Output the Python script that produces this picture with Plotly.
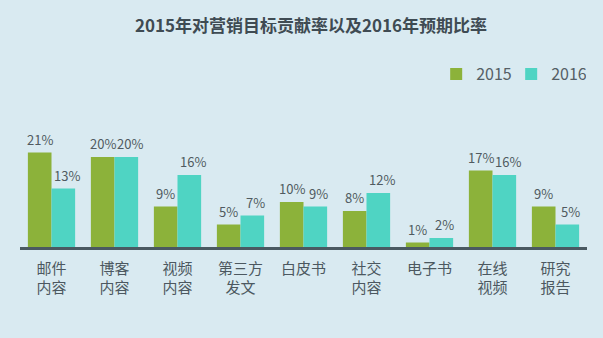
import plotly.graph_objects as go

categories = ["邮件<br>内容", "博客<br>内容", "视频<br>内容", "第三方<br>发文", "白皮书",
              "社交<br>内容", "电子书", "在线<br>视频", "研究<br>报告"]
values_2015 = [21, 20, 9, 5, 10, 8, 1, 17, 9]
values_2016 = [13, 20, 16, 7, 9, 12, 2, 16, 5]

font_family = "Noto Sans CJK SC, Noto Sans, sans-serif"
label_font = dict(size=13, color="#505a60", family=font_family)

fig = go.Figure()
fig.add_trace(go.Bar(
    name="2015", x=categories, y=values_2015,
    marker=dict(color="#8cb23a", line=dict(width=0)),
))
fig.add_trace(go.Bar(
    name="2016", x=categories, y=values_2016,
    marker=dict(color="#4fd4c3", line=dict(width=0)),
))

# value labels above each bar (bar centres are offset by about +/-12 px in each group)
for cat, v15, v16 in zip(categories, values_2015, values_2016):
    fig.add_annotation(x=cat, y=v15, text=f"{v15}%", showarrow=False,
                       xanchor="center", yanchor="bottom", xshift=-12, yshift=2,
                       font=label_font)
    fig.add_annotation(x=cat, y=v16, text=f"{v16}%", showarrow=False,
                       xanchor="center", yanchor="bottom", xshift=15, yshift=2,
                       font=label_font)

fig.update_layout(
    width=603, height=338,
    margin=dict(l=20, r=16, t=139, b=91),
    paper_bgcolor="#d9eaf1", plot_bgcolor="#d9eaf1",
    font=dict(family=font_family, color="#4c5860"),
    barmode="group", bargap=0.25, bargroupgap=0,
    title=dict(text="<b>2015年对营销目标贡献率以及2016年预期比率</b>",
               x=311 / 603, xanchor="center", y=1 - 26 / 338, yanchor="middle",
               font=dict(size=17, color="#3f4b53", family=font_family)),
    legend=dict(orientation="h", x=0.734, xanchor="left", y=1.60, yanchor="middle",
                font=dict(size=16, color="#555f66"), bgcolor="rgba(0,0,0,0)",
                itemwidth=30, entrywidth=30, entrywidthmode="pixels",
                traceorder="normal"),
    showlegend=True,
)
fig.update_xaxes(showline=True, linecolor="#4a5961", linewidth=2.5,
                 ticks="outside", ticklen=6, tickcolor="rgba(0,0,0,0)",
                 tickfont=dict(size=15, color="#4c5860"), showgrid=False)
fig.update_yaxes(range=[0, 24], visible=False, showgrid=False)

fig.write_html("out.html")
